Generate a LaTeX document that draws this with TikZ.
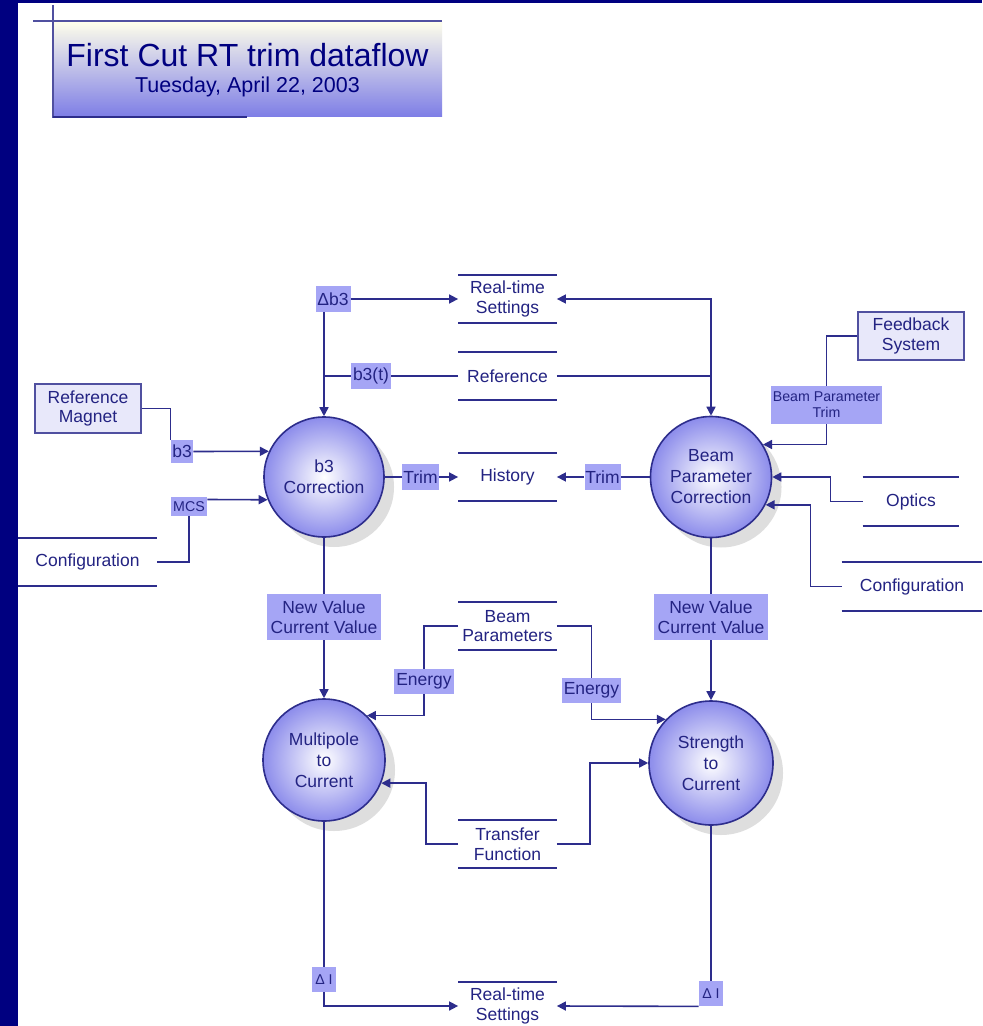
\documentclass[tikz,border=0pt]{standalone}
\usepackage{fontspec}
\setmainfont{Liberation Sans}
\usetikzlibrary{arrows.meta,shadows}

\definecolor{navy}{RGB}{0,0,128}
\definecolor{txtblue}{RGB}{35,35,130}
\definecolor{lineblue}{RGB}{45,45,140}
\definecolor{lblfill}{RGB}{165,165,245}
\definecolor{procfill}{RGB}{140,140,235}
\definecolor{entfill}{RGB}{232,232,250}
\definecolor{entline}{RGB}{80,80,160}
\definecolor{titletop}{RGB}{255,255,235}
\definecolor{titlebot}{RGB}{125,125,230}

\newcommand{\diagfont}{\fontsize{8.75}{9.75}\selectfont}
\newcommand{\procfont}{\fontsize{8.75}{10.5}\selectfont}
\newcommand{\smallfont}{\fontsize{7.1}{8}\selectfont}

\begin{document}
\begin{tikzpicture}[x=0.5pt, y=-0.5pt,
    every node/.style={text=txtblue},
    flow/.style={draw=lineblue, line width=0.8pt},
    flowarr/.style={flow, -{Triangle[length=4.5pt,width=4.5pt]}},
    storeline/.style={draw=lineblue, line width=1pt},
    store/.style={minimum width=49pt, minimum height=24pt, inner sep=0pt, align=center, font=\diagfont},
    entity/.style={draw=entline, line width=0.8pt, fill=entfill, minimum width=53pt, minimum height=24.5pt, inner sep=0pt, align=center, font=\diagfont},
    proc/.style={circle, draw=lineblue, line width=0.8pt, inner sep=0pt, inner color=white, outer color=procfill, align=center, font=\procfont,
        drop shadow={shadow xshift=5pt, shadow yshift=-5pt, fill=black!13, opacity=1}},
    flowlbl/.style={fill=lblfill, inner sep=0pt, align=center, font=\diagfont}]

    \useasboundingbox (0,0) rectangle (982,1026);
    \fill[white] (0,0) rectangle (982,1026);
    \fill[navy] (0,0) rectangle (18,1026);
    \fill[navy] (0,0) rectangle (982,3.5);

    \shade[top color=titletop, bottom color=titlebot] (53,21) rectangle (442,117);
    \draw[entline, line width=0.8pt] (33,21) -- (442,21);
    \draw[entline, line width=0.8pt] (53,5) -- (53,118);
    \draw[lineblue, line width=1.2pt] (53,117) -- (247,117);
    \node[text=navy, font=\fontsize{16}{18}\selectfont] (ttl) at (247.5,55) {First Cut RT trim dataflow};
    \node[text=navy, font=\fontsize{10.75}{12}\selectfont] (subttl) at (247.5,87) {Tuesday, April 22, 2003};

    \node[proc, minimum size=60pt] (bcorr) at (324,477) {b3\\Correction};
    \node[proc, minimum size=60.5pt] (bpcorr) at (711,477) {Beam\\Parameter\\Correction};
    \node[proc, minimum size=61pt] (mpole) at (324,760) {Multipole\\to\\Current};
    \node[proc, minimum size=62pt] (strength) at (711,763) {Strength\\to\\Current};

    \node[entity] (refmag) at (88,408.5) {Reference\\Magnet};
    \node[entity, minimum height=24pt] (feedback) at (911,336) {Feedback\\System};

    \node[store] (rtset) at (507.5,299) {Real-time\\Settings};
    \node[store] (refer) at (507.5,376) {Reference};
    \node[store] (hist) at (507.5,477) {History};
    \node[store] (beampar) at (507.5,626) {Beam\\Parameters};
    \node[store] (transfer) at (507.5,844) {Transfer\\Function};
    \node[store] (rtsetlow) at (507.5,1006) {Real-time\\Settings};
    \node[store, minimum width=48pt, minimum height=24.5pt] (optics) at (911,501.5) {Optics};
    \node[store, minimum width=70pt, minimum height=24.5pt] (confr) at (912,586.5) {Configuration};
    \node[store, minimum width=69.5pt] (confl) at (87.5,562) {Configuration};

    \foreach \s in {rtset,refer,hist,beampar,transfer,optics,confr,confl}
        \draw[storeline] (\s.north west) -- (\s.north east) (\s.south west) -- (\s.south east);
    \draw[storeline] (rtsetlow.north west) -- (rtsetlow.north east);

    \node[flowlbl, minimum width=17.5pt, minimum height=12.5pt] (ldb3) at (333,299) {Δb3};
    \node[flowlbl, minimum width=20pt, minimum height=13pt] (lb3t) at (371,376) {b3(t)};
    \node[flowlbl, minimum width=11pt, minimum height=11.5pt] (lb3) at (182,451.5) {b3};
    \node[flowlbl, font=\smallfont, minimum width=18pt, minimum height=9.5pt] (lmcs) at (189,506.5) {MCS};
    \node[flowlbl, minimum width=18.5pt, minimum height=13pt] (ltrima) at (420.5,477) {Trim};
    \node[flowlbl, minimum width=18pt, minimum height=13pt] (ltrimb) at (602.5,477) {Trim};
    \node[flowlbl, font=\smallfont, minimum width=55.5pt, minimum height=19pt] (lbpt) at (826.5,405) {Beam Parameter\\Trim};
    \node[flowlbl, minimum width=57pt, minimum height=23pt] (lnva) at (324,617) {New Value\\Current Value};
    \node[flowlbl, minimum width=57pt, minimum height=23pt] (lnvb) at (711,617) {New Value\\Current Value};
    \node[flowlbl, minimum width=30pt, minimum height=12.5pt] (lena) at (424,681.5) {Energy};
    \node[flowlbl, minimum width=29.5pt, minimum height=12.5pt] (lenb) at (591.5,690.5) {Energy};
    \node[flowlbl, font=\smallfont, minimum width=12pt, minimum height=12.5pt] (ldia) at (324,979.5) {Δ I};
    \node[flowlbl, font=\smallfont, minimum width=12pt, minimum height=12.5pt] (ldib) at (711,993.5) {Δ I};

    \draw[flowarr] (ldb3.south -| bcorr.north) -- (bcorr.north);
    \draw[flowarr] (ldb3.east) -- (rtset.west);
    \draw[flow] (refer.west) -- (lb3t.east);
    \draw[flow] (lb3t.west) -- (lb3t.west -| bcorr.north);
    \draw[flowarr] (refer.east) -| (bpcorr.north);
    \draw[flowarr] (bpcorr.north |- refer.east) |- (rtset.east);

    \draw[flow] (refmag.east) -| (lb3.north west);
    \draw[flowarr] (lb3.east) -- (bcorr.155);
    \draw[flow] (confl.east) -| (lmcs.south);
    \draw[flowarr] ([yshift=3.5pt]lmcs.east) -- (bcorr.202);

    \draw[flow] (bcorr.east) -- (ltrima.west);
    \draw[flowarr] (ltrima.east) -- (hist.west);
    \draw[flow] (bpcorr.west) -- (ltrimb.east);
    \draw[flowarr] (ltrimb.west) -- (hist.east);

    \draw[flow] (feedback.west) -| (lbpt.north);
    \draw[flowarr] (lbpt.south) |- (bpcorr.32);
    \draw[flowarr] (optics.west) -- ++(-32,0) |- (bpcorr.east);
    \draw[flowarr] (confr.west) -- ++(-31,0) |- (bpcorr.333);

    \draw[flow] (bcorr.south) -- (lnva.north);
    \draw[flowarr] (lnva.south) -- (mpole.north);
    \draw[flow] (bpcorr.south) -- (lnvb.north);
    \draw[flowarr] (lnvb.south) -- (strength.north);

    \draw[flow] (beampar.west) -| (lena.north);
    \draw[flowarr] (lena.south) |- (mpole.46);
    \draw[flow] (beampar.east) -| (lenb.north);
    \draw[flowarr] (lenb.south) |- (strength.136);
    \draw[flowarr] (transfer.west) -- ++(-32,0) |- (mpole.338);
    \draw[flowarr] (transfer.east) -- ++(33,0) |- (strength.west);

    \draw[flow] (mpole.south) -- (ldia.north);
    \draw[flowarr] (ldia.south) |- (rtsetlow.west);
    \draw[flow] (strength.south) -- (ldib.north);
    \draw[flowarr] (ldib.south west) -- (rtsetlow.east);
\end{tikzpicture}
\end{document}
